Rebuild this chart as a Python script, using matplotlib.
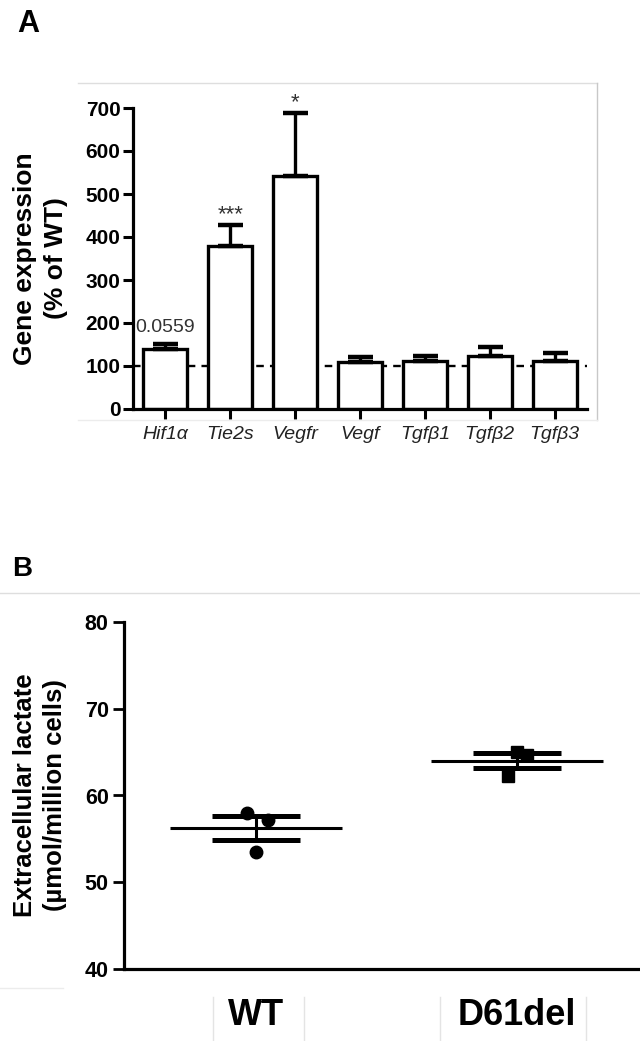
import numpy as np
import matplotlib
matplotlib.use("Agg")
import matplotlib.pyplot as plt
from matplotlib.lines import Line2D

plt.rcParams['font.family'] = ['Liberation Sans', 'DejaVu Sans']

# Panel A data
genes = ["Hif1α", "Tie2s", "Vegfr", "Vegf", "Tgfβ1", "Tgfβ2", "Tgfβ3"]
expression = [139, 379, 541, 110, 112, 123, 112]
expression_err = [12, 50, 147, 12, 12, 21, 18]
signif = ["0.0559", "***", "*", "", "", "", ""]
signif_y = [190, 452, 712, 0, 0, 0, 0]

# Panel B data
groups = ["WT", "D61del"]
wt_lactate = [58.0, 57.2, 53.5]
d61_lactate = [65.0, 64.7, 62.3]

W, H = 640, 1041
fig = plt.figure(figsize=(W / 100, H / 100), dpi=100)

def fx(x):
	return x / W
def fy(y):
	return 1 - y / H

def gline(x0, y0, x1, y1, c="#dedede"):
	fig.add_artist(Line2D([fx(x0), fx(x1)], [fy(y0), fy(y1)], color=c, lw=1.0))

# faint frame lines from the original scan
gline(78, 83, 597, 83)
gline(597, 83, 597, 420, "#c8c8c8")
gline(78, 420, 597, 420, "#ececec")
gline(0, 593, 640, 593)
gline(0, 988, 63, 988, "#ececec")
for xv in [213, 304, 440, 586]:
	gline(xv, 997, xv, 1041, "#e4e4e4")

fig.text(fx(17), fy(9), "A", fontsize=22, fontweight="bold", va="top", ha="left")
fig.text(fx(12), fy(556), "B", fontsize=20, fontweight="bold", va="top", ha="left")

# ---- Panel A ----
axA = fig.add_axes([fx(133), fy(409), fx(587) - fx(133), fy(108) - fy(409)])
x = np.arange(len(genes))
axA.axhline(100, xmin=0, xmax=1, color="black", lw=1.7, linestyle=(0, (3.2, 2.6)), zorder=1)
axA.bar(x, expression, width=0.68, color="white", edgecolor="black", linewidth=2.4, zorder=2)
axA.errorbar(x, expression, yerr=[np.zeros(len(x)), expression_err], fmt="none",
	ecolor="black", elinewidth=2.4, capsize=9, capthick=3.2, zorder=3)
for i, s in enumerate(signif):
	if s:
		fs = 14 if s[0].isdigit() else 16
		axA.text(x[i], signif_y[i], s, ha="center", va="center", fontsize=fs,
			color="#333333", clip_on=False)
axA.set_xlim(-0.5, 6.5)
axA.set_ylim(0, 700)
axA.set_yticks(range(0, 701, 100))
axA.set_xticks(x)
axA.set_xticklabels(genes, fontstyle="italic", fontsize=14, color="#222222")
for lab in axA.get_yticklabels():
	lab.set_fontweight("bold")
	lab.set_fontsize(15)
axA.tick_params(axis="y", length=7, width=2.2, pad=2)
axA.tick_params(axis="x", length=7, width=2.2, pad=5)
for sp in ["top", "right"]:
	axA.spines[sp].set_visible(False)
for sp in ["left", "bottom"]:
	axA.spines[sp].set_linewidth(2.3)
axA.set_ylabel("Gene expression\n(% of WT)", fontsize=19, fontweight="bold", linespacing=1.35)
axA.yaxis.set_label_coords(-0.143, 0.5)

# ---- Panel B ----
axB = fig.add_axes([fx(124), fy(969), fx(647) - fx(124), fy(622) - fy(969)])
offsets = [[-0.035, 0.045, 0.0], [0.0, 0.04, -0.035]]
markers = ["o", "s"]
for i, vals in enumerate([wt_lactate, d61_lactate]):
	vals = np.array(vals)
	m = vals.mean()
	sem = vals.std(ddof=1) / np.sqrt(len(vals))
	axB.plot(i + np.array(offsets[i]), vals, linestyle="none", marker=markers[i],
		markersize=9, color="black", zorder=3)
	axB.hlines(m, i - 0.33, i + 0.33, color="black", lw=2.2, zorder=4)
	axB.errorbar([i], [m], yerr=[[sem], [sem]], fmt="none", ecolor="black",
		elinewidth=2.2, capsize=32, capthick=3.6, zorder=4)
axB.set_xlim(-0.506, 1.5)
axB.set_ylim(40, 80)
axB.set_yticks([40, 50, 60, 70, 80])
axB.set_xticks([0, 1])
axB.set_xticklabels(groups, fontsize=26, fontweight="bold")
for lab in axB.get_yticklabels():
	lab.set_fontweight("bold")
	lab.set_fontsize(15.5)
axB.tick_params(axis="y", length=8, width=2.0, pad=3)
axB.tick_params(axis="x", length=0, pad=21)
for sp in ["top", "right"]:
	axB.spines[sp].set_visible(False)
for sp in ["left", "bottom"]:
	axB.spines[sp].set_linewidth(2.3)
axB.set_ylabel("Extracellular lactate\n(µmol/million cells)", fontsize=18.5,
	fontweight="bold", linespacing=1.3)
axB.yaxis.set_label_coords(-0.109, 0.5)

fig.savefig("out.png", dpi=100)
